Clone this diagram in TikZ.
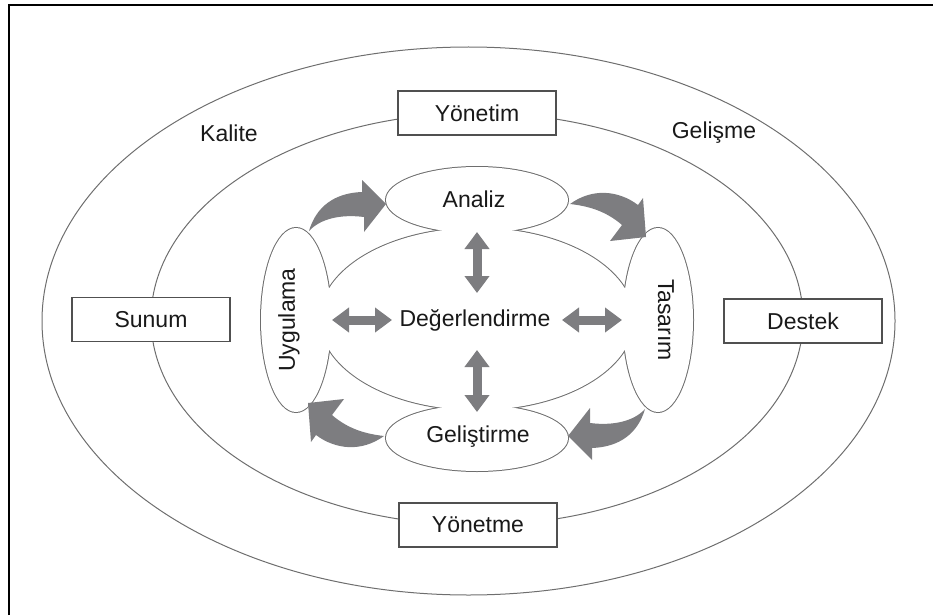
\documentclass[tikz,border=0pt]{standalone}
\usepackage{fontspec}
\setmainfont{Liberation Sans}
\usetikzlibrary{arrows.meta}
\definecolor{linegray}{RGB}{110,110,110}
\definecolor{boxgray}{RGB}{80,80,80}
\definecolor{arrowgray}{RGB}{125,125,128}
\definecolor{txt}{RGB}{25,25,25}
\begin{document}
\begin{tikzpicture}[x=1pt,y=-1pt,
  lbl/.style={font=\fontsize{23}{26}\selectfont, text=txt, inner sep=0pt},
  boxnode/.style={lbl, draw=boxgray, line width=1.2pt, fill=white,
    minimum width=158pt, minimum height=44pt},
  ring/.style={draw=linegray, line width=1pt},
  dblarrow/.style={draw=arrowgray, line width=9pt,
    {Triangle[length=17pt,width=24pt]}-{Triangle[length=17pt,width=24pt]}},
  blockarrow/.style={fill=arrowgray}]
\useasboundingbox (0,0) rectangle (933,615);
% frame
\draw[line width=2.5pt] (9,615) -- (9,5) -- (933,5);
% rings
\draw[ring] (468.5,321) ellipse [x radius=426.5, y radius=274];
\draw[ring] (477,319) ellipse [x radius=326, y radius=206];
% boxes
\node[boxnode] (yonetim) at (477,113) {Yönetim};
\node[boxnode] (yonetme) at (478,525) {Yönetme};
\node[boxnode] (sunum) at (151,319.5) {Sunum};
\node[boxnode] (destek) at (803,321) {Destek};
\node[lbl] (kalite) at (229,133) {Kalite};
\node[lbl] (gelisme) at (714,133) {Gelişme};
% central union outline
\foreach \cx/\cy/\rx/\ry in {477/319/157/91, 477/200/91/33, 477/438/91/33, 296/320/35/92, 658/320/35/92}
  \draw[linegray, line width=2pt] (\cx,\cy) ellipse [x radius=\rx, y radius=\ry];
\foreach \cx/\cy/\rx/\ry in {477/319/157/91, 477/200/91/33, 477/438/91/33, 296/320/35/92, 658/320/35/92}
  \fill[white] (\cx,\cy) ellipse [x radius=\rx, y radius=\ry];
% labels of phases
\node[lbl] (analiz) at (474,199) {Analiz};
\node[lbl] (gelistirme) at (478,437) {Geliştirme};
\node[lbl, rotate=90] (uygulama) at (289,320) {Uygulama};
\node[lbl, rotate=-90] (tasarim) at (666,320) {Tasarım};
\node[lbl] (deger) at (475,320) {Değerlendirme};
% straight double arrows
\coordinate (aN) at (477,232); \coordinate (aS) at (477,293);
\coordinate (gN) at (477,350); \coordinate (gS) at (477,412);
\coordinate (uW) at (332,320); \coordinate (uE) at (392,320);
\coordinate (tW) at (562,320); \coordinate (tE) at (622,320);
\draw[dblarrow] (aN) -- (aS);
\draw[dblarrow] (gN) -- (gS);
\draw[dblarrow] (uW) -- (uE);
\draw[dblarrow] (tW) -- (tE);
% curved block arrows
\foreach \ang in {0,180}{
\begin{scope}[rotate around={\ang:(477,320)}]
\fill[blockarrow] (309,231) .. controls (316,207) and (334,193) .. (362,192)
  -- (362,180) -- (386,204) -- (364,232) -- (364,217)
  .. controls (340,214) and (320,219) .. cycle;
\fill[blockarrow] (570,204) .. controls (592,188) and (618,190) .. (638,205)
  -- (643,198) -- (646,237) -- (610,241) -- (622,225)
  .. controls (606,211) and (588,206) .. cycle;
\end{scope}}
\end{tikzpicture}
\end{document}
